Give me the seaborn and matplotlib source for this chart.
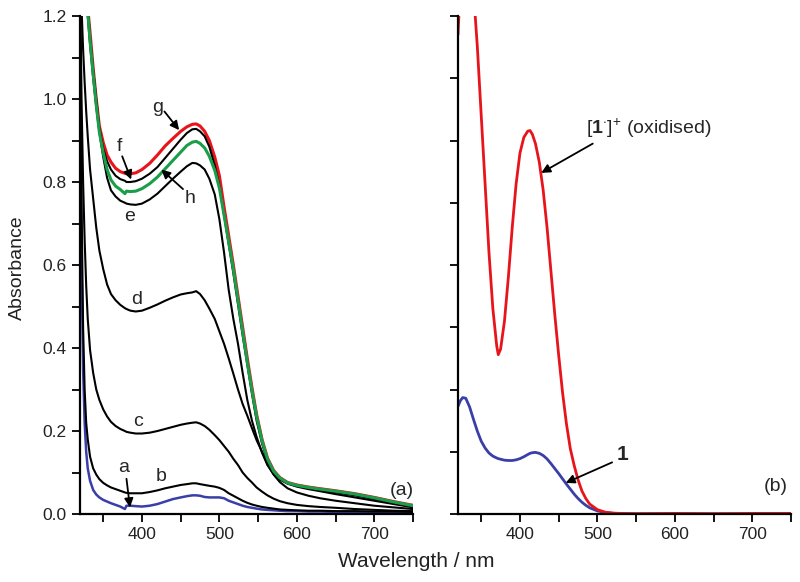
import numpy as np
import pandas as pd
import matplotlib
matplotlib.use('Agg')
import matplotlib.pyplot as plt
import seaborn as sns

# ---- panel (a): titration spectra, absorbance ----
wl_a = [320, 322, 324, 326, 328, 330, 333, 337, 341, 345, 350, 355, 360, 366, 372, 378, 380, 385, 392,
        400, 410, 420, 430, 440, 450, 458, 465, 470, 475, 481, 487, 494, 500, 506, 512, 518, 524, 530,
        536, 542, 548, 555, 562, 570, 578, 588, 600, 615, 630, 650, 675, 700, 725, 750]

curve_a = [1.15, 0.6, 0.35, 0.22, 0.15, 0.11, 0.08, 0.058, 0.047, 0.04, 0.034, 0.03, 0.026, 0.022, 0.018, 0.012,
           0.02, 0.02, 0.019, 0.018, 0.02, 0.024, 0.03, 0.036, 0.04, 0.043, 0.045, 0.045, 0.044, 0.041, 0.04,
           0.04, 0.04, 0.038, 0.032, 0.028, 0.024, 0.02, 0.017, 0.015, 0.013, 0.011, 0.01, 0.009, 0.008, 0.007,
           0.007, 0.006, 0.006, 0.005, 0.005, 0.004, 0.004, 0.003]
curve_b = [1.25, 0.75, 0.45, 0.3, 0.22, 0.18, 0.138, 0.11, 0.095, 0.084, 0.075, 0.069, 0.064, 0.06, 0.056, 0.052,
           0.051, 0.05, 0.05, 0.05, 0.053, 0.057, 0.062, 0.066, 0.07, 0.072, 0.074, 0.074, 0.072, 0.07, 0.068,
           0.066, 0.063, 0.058, 0.05, 0.044, 0.038, 0.032, 0.027, 0.023, 0.02, 0.017, 0.015, 0.013, 0.011, 0.01,
           0.009, 0.008, 0.008, 0.007, 0.007, 0.006, 0.006, 0.005]
curve_c = [1.3, 1.0, 0.8, 0.66, 0.55, 0.47, 0.395, 0.34, 0.3, 0.275, 0.252, 0.235, 0.222, 0.212, 0.205, 0.2,
           0.198, 0.196, 0.194, 0.194, 0.196, 0.2, 0.205, 0.21, 0.215, 0.218, 0.22, 0.221, 0.218, 0.212, 0.203,
           0.19, 0.178, 0.164, 0.15, 0.133, 0.118, 0.1, 0.087, 0.076, 0.064, 0.054, 0.045, 0.037, 0.031, 0.026,
           0.022, 0.019, 0.017, 0.015, 0.012, 0.01, 0.008, 0.007]
curve_d = [1.35, 1.22, 1.12, 1.04, 0.97, 0.91, 0.83, 0.76, 0.69, 0.635, 0.59, 0.553, 0.53, 0.515, 0.504, 0.496,
           0.494, 0.49, 0.488, 0.49, 0.497, 0.505, 0.514, 0.522, 0.529, 0.532, 0.534, 0.537, 0.53, 0.515, 0.495,
           0.47, 0.44, 0.41, 0.375, 0.338, 0.3, 0.265, 0.237, 0.207, 0.178, 0.15, 0.12, 0.095, 0.077, 0.062,
           0.052, 0.044, 0.038, 0.032, 0.026, 0.02, 0.016, 0.012]
curve_e = [1.45, 1.4, 1.35, 1.3, 1.25, 1.2, 1.13, 1.05, 0.98, 0.92, 0.86, 0.81, 0.78, 0.765, 0.755, 0.75,
           0.748, 0.746, 0.745, 0.748, 0.758, 0.772, 0.79, 0.808, 0.825, 0.838, 0.846, 0.845, 0.84, 0.83, 0.808,
           0.77, 0.71, 0.63, 0.54, 0.47, 0.41, 0.34, 0.275, 0.225, 0.186, 0.148, 0.118, 0.096, 0.083, 0.073,
           0.066, 0.06, 0.055, 0.048, 0.04, 0.032, 0.024, 0.016]
curve_f = [1.5, 1.45, 1.4, 1.34, 1.28, 1.22, 1.15, 1.07, 1.0, 0.93, 0.88, 0.85, 0.83, 0.815, 0.807, 0.803,
           0.8, 0.8, 0.802, 0.808, 0.82, 0.836, 0.858, 0.88, 0.902, 0.918, 0.927, 0.928, 0.922, 0.91, 0.885,
           0.84, 0.79, 0.72, 0.65, 0.58, 0.505, 0.43, 0.36, 0.29, 0.225, 0.17, 0.128, 0.1, 0.085, 0.075,
           0.068, 0.062, 0.058, 0.052, 0.045, 0.036, 0.027, 0.019]
curve_g = [1.5, 1.45, 1.4, 1.33, 1.27, 1.22, 1.16, 1.075, 1.0, 0.935, 0.895, 0.865, 0.848, 0.833, 0.825, 0.821,
           0.82, 0.82, 0.822, 0.83, 0.845, 0.865, 0.887, 0.905, 0.922, 0.933, 0.939, 0.94, 0.935, 0.922, 0.9,
           0.86, 0.815, 0.74, 0.67, 0.6, 0.525, 0.45, 0.375, 0.305, 0.24, 0.18, 0.135, 0.105, 0.088, 0.076,
           0.07, 0.065, 0.061, 0.056, 0.049, 0.04, 0.03, 0.021]
curve_h = [1.5, 1.45, 1.4, 1.33, 1.27, 1.21, 1.14, 1.06, 0.985, 0.92, 0.87, 0.83, 0.805, 0.79, 0.782, 0.772,
           0.778, 0.777, 0.778, 0.784, 0.796, 0.812, 0.832, 0.852, 0.872, 0.888, 0.896, 0.898, 0.893, 0.882, 0.862,
           0.828, 0.785, 0.72, 0.655, 0.59, 0.515, 0.44, 0.365, 0.298, 0.235, 0.177, 0.133, 0.103, 0.087, 0.075,
           0.069, 0.064, 0.06, 0.055, 0.048, 0.039, 0.029, 0.02]

# ---- panel (b): neutral 1 and oxidised form (arbitrary units, axis unlabelled) ----
wl_b = [320, 323, 326, 330, 335, 340, 345, 350, 355, 360, 365, 370, 372, 375, 380, 385, 390, 395, 400, 405,
        410, 413, 416, 420, 425, 430, 435, 440, 445, 450, 455, 460, 465, 470, 475, 480, 485, 490, 500, 510,
        520, 530, 550, 600, 650, 700, 750]
neutral = [1.73, 1.82, 1.87, 1.86, 1.72, 1.52, 1.33, 1.17, 1.06, 0.98, 0.93, 0.9, 0.89, 0.88, 0.865, 0.86,
           0.86, 0.87, 0.89, 0.92, 0.955, 0.975, 0.985, 0.99, 0.975, 0.94, 0.885, 0.81, 0.73, 0.65, 0.565, 0.48,
           0.4, 0.32, 0.25, 0.19, 0.14, 0.1, 0.05, 0.025, 0.012, 0.006, 0.003, 0.003, 0.002, 0.002, 0.002]
oxidised = [7.7, 8.5, 9.0, 9.2, 9.0, 8.4, 7.5, 6.4, 5.3, 4.2, 3.3, 2.7, 2.56, 2.65, 3.1, 3.8, 4.6, 5.3, 5.8,
            6.05, 6.15, 6.16, 6.1, 5.95, 5.65, 5.2, 4.6, 3.9, 3.2, 2.55, 1.95, 1.45, 1.05, 0.78, 0.55, 0.37,
            0.25, 0.16, 0.07, 0.03, 0.015, 0.01, 0.005, 0.01, 0.005, 0.01, 0.01]

left_curves = [('a', curve_a, '#3a3fa8', 1.8), ('b', curve_b, 'black', 1.5), ('c', curve_c, 'black', 1.5),
               ('d', curve_d, 'black', 1.5), ('e', curve_e, 'black', 1.5), ('g', curve_g, '#e8141b', 2.2),
               ('f', curve_f, 'black', 1.5), ('h', curve_h, '#1a9e4a', 2.2)]

sns.set_style('ticks')
plt.rcParams['font.family'] = ['Liberation Sans', 'DejaVu Sans']
plt.rcParams['mathtext.fontset'] = 'custom'
plt.rcParams['mathtext.rm'] = 'Liberation Sans'
plt.rcParams['mathtext.bf'] = 'Liberation Sans:bold'

fig = plt.figure(figsize=(8, 5.82), dpi=100)
ax1 = fig.add_axes([0.1, 0.1168, 0.4163, 0.8557])
ax2 = fig.add_axes([0.5725, 0.1168, 0.4163, 0.8557])

for name, vals, col, lw in left_curves:
    df = pd.DataFrame({'wl': wl_a, 'A': vals})
    sns.lineplot(data=df, x='wl', y='A', ax=ax1, color=col, lw=lw, estimator=None, sort=False)

df_b = pd.DataFrame({'wl': wl_b, 'neutral': neutral, 'oxidised': oxidised})
sns.lineplot(data=df_b, x='wl', y='neutral', ax=ax2, color='#3a3fa8', lw=2.0, estimator=None, sort=False)
sns.lineplot(data=df_b, x='wl', y='oxidised', ax=ax2, color='#e8141b', lw=2.0, estimator=None, sort=False)

for ax in (ax1, ax2):
    ax.set_xlim(320, 750)
    ax.set_xticks([400, 500, 600, 700])
    ax.set_xticks([350, 450, 550, 650, 750], minor=True)
    ax.set_xlabel('')
    ax.set_ylabel('')
    sns.despine(ax=ax)
    for s in ('left', 'bottom'):
        ax.spines[s].set_linewidth(1.6)
        ax.spines[s].set_color('black')
    ax.tick_params(which='both', direction='out', length=6, width=1.3, color='black', labelsize=12.5,
                   labelcolor='#222222')

ax1.set_ylim(0, 1.2)
ax1.set_yticks(np.arange(0, 1.21, 0.2))
ax1.set_yticks(np.arange(0.1, 1.2, 0.2), minor=True)
ax1.yaxis.set_major_formatter(matplotlib.ticker.FormatStrFormatter('%.1f'))

ax2.set_ylim(0, 8)
ax2.set_yticks(np.arange(0, 8.1, 1))
ax2.set_yticklabels([])

arrow = dict(arrowstyle='-|>', color='black', lw=1.3, mutation_scale=13, shrinkA=0, shrinkB=0)
fs = 14
ax1.text(420.7, 0.98, 'g', fontsize=fs, ha='center', va='center')
ax1.annotate('', xy=(448, 0.925), xytext=(429, 0.97), arrowprops=arrow)
ax1.text(371, 0.886, 'f', fontsize=fs, ha='center', va='center')
ax1.annotate('', xy=(386, 0.806), xytext=(374.5, 0.862), arrowprops=arrow)
ax1.text(461.6, 0.76, 'h', fontsize=fs, ha='center', va='center')
ax1.annotate('', xy=(425, 0.83), xytext=(453, 0.783), arrowprops=arrow)
ax1.text(384, 0.718, 'e', fontsize=fs, ha='center', va='center')
ax1.text(393, 0.516, 'd', fontsize=fs, ha='center', va='center')
ax1.text(395, 0.222, 'c', fontsize=fs, ha='center', va='center')
ax1.text(425, 0.09, 'b', fontsize=fs, ha='center', va='center')
ax1.text(376, 0.112, 'a', fontsize=fs, ha='center', va='center')
ax1.annotate('', xy=(384.5, 0.016), xytext=(380, 0.085), arrowprops=arrow)
ax1.text(735, 0.056, '(a)', fontsize=fs, ha='center', va='center')

ax2.text(485, 6.2, r'$[\mathbf{1}^{\cdot}]^{+}$ (oxidised)', fontsize=fs, ha='left', va='center')
ax2.annotate('', xy=(427.5, 5.48), xytext=(494, 5.95), arrowprops=arrow)
ax2.text(532, 0.95, '1', fontsize=fs + 1, fontweight='bold', ha='center', va='center')
ax2.annotate('', xy=(459, 0.5), xytext=(519, 0.83), arrowprops=arrow)
ax2.text(730, 0.45, '(b)', fontsize=fs, ha='center', va='center')

fig.text(0.022, 0.54, 'Absorbance', rotation=90, fontsize=14, ha='center', va='center', color='#222222')
fig.text(0.52, 0.035, 'Wavelength / nm', fontsize=15, ha='center', va='center', color='#222222')

fig.savefig('out.png', dpi=100)
